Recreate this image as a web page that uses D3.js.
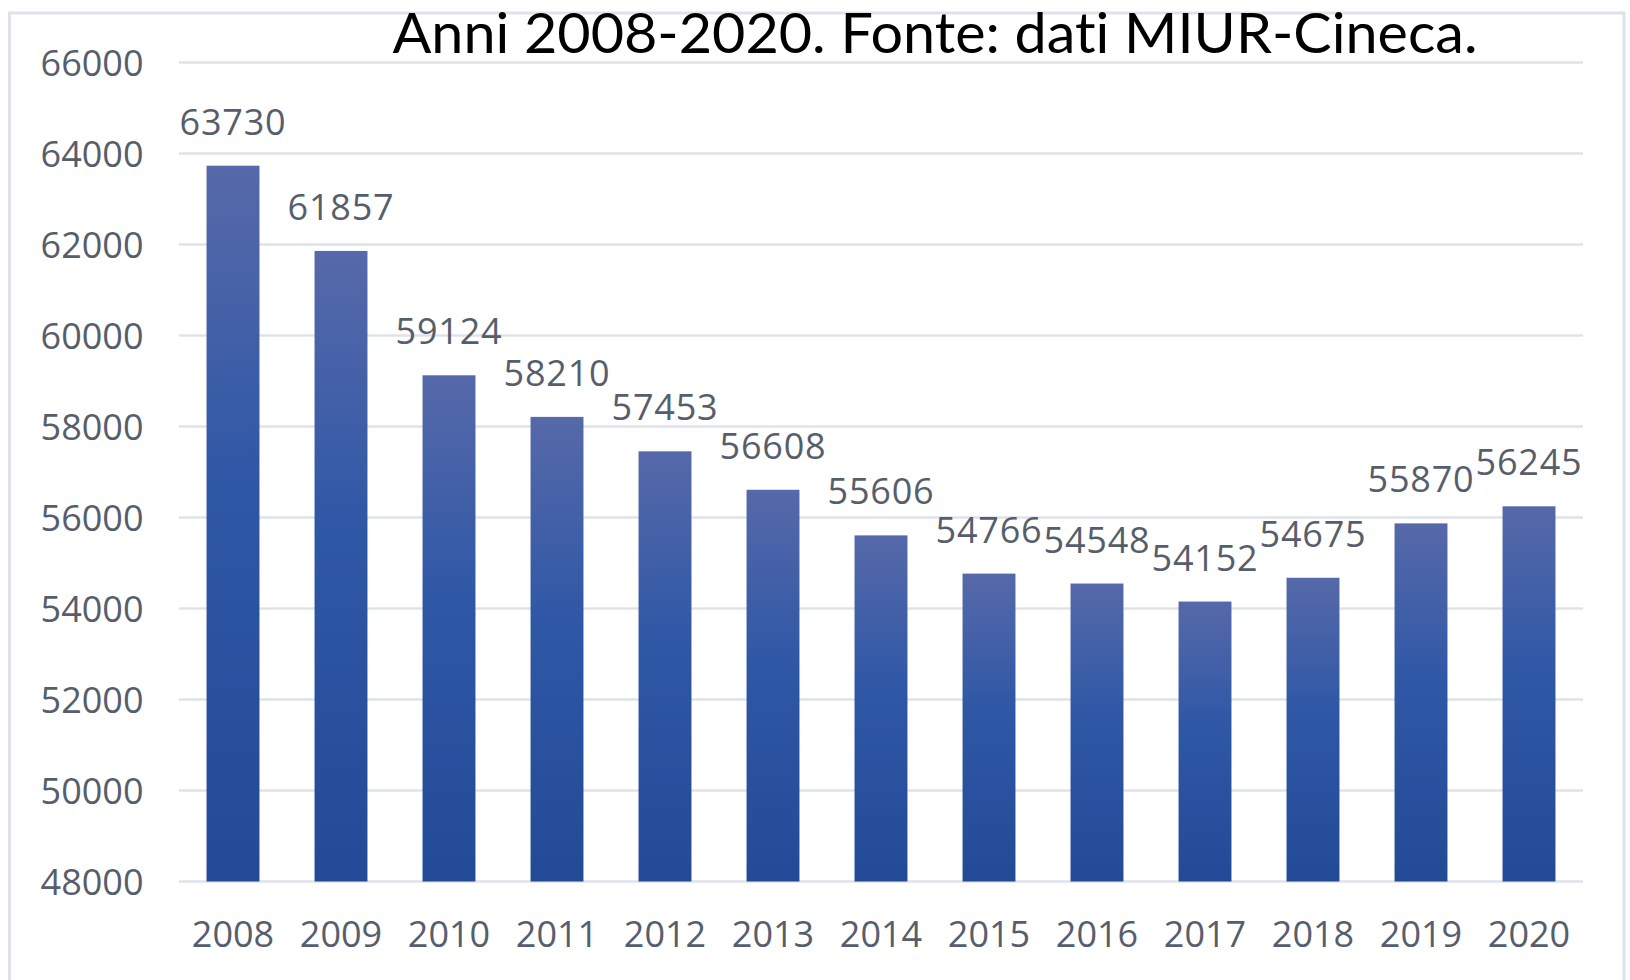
<!DOCTYPE html>
<html>
<head>
<meta charset="utf-8">
<script src="https://d3js.org/d3.v7.min.js"></script>
<style>
  body { margin: 0; background: #fff; }
  svg { display: block; }
  .num { font-family: "Open Sans", sans-serif; font-size: 36px; fill: #565e6c; }
  .val { letter-spacing: 0.8px; }
</style>
</head>
<body>
<script>
// data
var years = ["2008","2009","2010","2011","2012","2013","2014","2015","2016","2017","2018","2019","2020"];
var values = [63730, 61857, 59124, 58210, 57453, 56608, 55606, 54766, 54548, 54152, 54675, 55870, 56245];
var yTicks = [48000, 50000, 52000, 54000, 56000, 58000, 60000, 62000, 64000, 66000];
var title = "Anni 2008-2020. Fonte: dati MIUR-Cineca.";

var W = 1630, H = 980;
var plotLeft = 179, plotRight = 1583, plotTop = 62.4, plotBottom = 881.5;

var svg = d3.select("body").append("svg")
    .attr("width", W)
    .attr("height", H);

// bar gradient, lighter on top
var grad = svg.append("defs").append("linearGradient")
    .attr("id", "barGrad")
    .attr("x1", 0).attr("y1", 0).attr("x2", 0).attr("y2", 1);
grad.append("stop").attr("offset", "0%").attr("stop-color", "#5669a9");
grad.append("stop").attr("offset", "45%").attr("stop-color", "#2e57a6");
grad.append("stop").attr("offset", "100%").attr("stop-color", "#234a96");

// outer frame
svg.append("path")
    .attr("d", "M9.5," + (H + 5) + "V13H1624V" + (H + 5))
    .attr("fill", "none")
    .attr("stroke", "#dfe3e9")
    .attr("stroke-width", 3);

var x = d3.scaleBand()
    .domain(years)
    .range([plotLeft, plotRight])
    .paddingInner(0.51)
    .paddingOuter(0.255);

var y = d3.scaleLinear()
    .domain([48000, 66000])
    .range([plotBottom, plotTop]);

// gridlines
svg.append("g")
  .selectAll("line")
  .data(yTicks)
  .join("line")
    .attr("x1", plotLeft)
    .attr("x2", plotRight)
    .attr("y1", function (d) { return y(d); })
    .attr("y2", function (d) { return y(d); })
    .attr("stroke", "#dfe3e9")
    .attr("stroke-width", 2.5);

// y axis labels
var yAxis = d3.axisLeft(y).tickValues(yTicks).tickSize(0).tickPadding(0).tickFormat(d3.format("d"));
var gy = svg.append("g")
    .attr("transform", "translate(143.5,0)")
    .call(yAxis);
gy.select(".domain").remove();
gy.attr("font-family", null).attr("font-size", null);
gy.selectAll("text")
    .attr("class", "num")
    .attr("dy", "0.36em")
    .attr("fill", null);

// x axis labels
var xAxis = d3.axisBottom(x).tickSize(0).tickPadding(0);
var gx = svg.append("g")
    .attr("transform", "translate(0,947)")
    .call(xAxis);
gx.select(".domain").remove();
gx.attr("font-family", null).attr("font-size", null);
gx.selectAll("text")
    .attr("class", "num")
    .attr("y", 0)
    .attr("dy", 0)
    .attr("fill", null);

// bars
svg.append("g")
  .selectAll("rect")
  .data(values)
  .join("rect")
    .attr("x", function (d, i) { return x(years[i]); })
    .attr("y", function (d) { return y(d); })
    .attr("width", x.bandwidth())
    .attr("height", function (d) { return plotBottom - y(d); })
    .attr("fill", "url(#barGrad)");

// value labels
svg.append("g")
  .selectAll("text")
  .data(values)
  .join("text")
    .attr("class", "num val")
    .attr("text-anchor", "middle")
    .attr("x", function (d, i) { return x(years[i]) + x.bandwidth() / 2; })
    .attr("y", function (d) { return y(d) - 31; })
    .text(function (d) { return d; });

// title, fitted to the width it has in the picture
var t = svg.append("text")
    .attr("x", 935)
    .attr("y", 53)
    .attr("text-anchor", "middle")
    .style("font-family", "Lato, 'Open Sans', sans-serif")
    .style("font-size", "56px")
    .style("font-variant-ligatures", "none")
    .style("fill", "#000")
    .text(title);
var tw = t.node().getComputedTextLength();
if (Math.abs(tw - 1085) > 4) {
  t.attr("textLength", 1085).attr("lengthAdjust", "spacingAndGlyphs");
}
</script>
</body>
</html>
